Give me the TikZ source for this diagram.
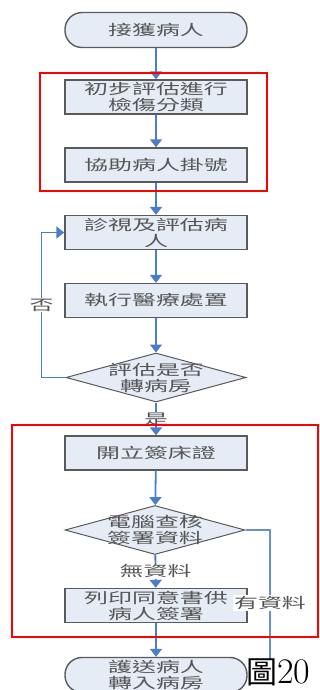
\documentclass[tikz,border=0pt]{standalone}
\usepackage{fontspec}
\newfontfamily\cjk[FakeStretch=1.65]{Noto Sans CJK TC}
\newfontfamily\cjkbig{Noto Sans CJK TC}
\usetikzlibrary{shapes.geometric,arrows.meta}

\definecolor{flowblue}{HTML}{4A7EC9}
\definecolor{boxfill}{HTML}{E6ECF6}
\definecolor{boxline}{HTML}{5A5A5A}
\definecolor{txtgray}{HTML}{555555}

\tikzset{
  box/.style = {draw = boxline, line width = 1.4pt, fill = boxfill, minimum width = 182pt, minimum height = 34pt,
                inner sep = 0pt, align = center, text = txtgray, font = \cjk\fontsize{14.5}{16}\selectfont},
  terminal/.style = {box, rounded corners = 17pt, minimum height = 35pt},
  decision/.style = {diamond, draw = boxline, line width = 1pt, fill = boxfill, minimum width = 180pt,
                     minimum height = 49pt, inner sep = 0pt},
  dtext/.style = {align = center, inner sep = 0pt, text = txtgray, font = \cjk\fontsize{14.5}{16}\selectfont},
  flow/.style = {draw = flowblue, line width = 1.8pt, -{Triangle[width = 12pt, length = 8pt]}},
  flowthin/.style = {draw = flowblue!85, line width = 1.3pt},
  tag/.style = {fill = white, inner sep = 1pt, text = txtgray, font = \cjk\fontsize{14.5}{16}\selectfont},
  frame/.style = {draw = red, line width = 1.6pt}
}

\begin{document}
\begin{tikzpicture}[x = 1pt, y = -1pt]
\useasboundingbox (0,0) rectangle (320,690);

\node[terminal] (start) at (156,30) {接獲病人};
\node[box] (triage) at (156,97) {初步評估進行\\檢傷分類};
\node[box] (regist) at (156,165) {協助病人掛號};
\node[box] (assess) at (156,232.5) {診視及評估病\\人};
\node[box] (treat) at (156,300.5) {執行醫療處置};
\node[decision, label = {[dtext]center:{評估是否\\轉病房}}] (ward) at (156,377.5) {};
\node[box] (bedcert) at (156,453) {開立簽床證};
\node[decision, label = {[dtext]center:{電腦查核\\簽署資料}}] (check) at (155,530) {};
\node[box] (consent) at (156,605.5) {列印同意書供\\病人簽署};
\node[terminal] (transfer) at (156,675) {護送病人\\轉入病房};
\coordinate (lineend) at (270,660);

\draw[flow] (start) -- (triage);
\draw[flow] (triage) -- (regist);
\draw[flow] (regist) -- (assess);
\draw[flow] (assess) -- (treat);
\draw[flow] (treat) -- (ward);
\draw[flow] (ward.west) -- ++(-24,0) |- node[tag, pos = 0.25] {否} (assess.west);
\draw[flow] (ward) -- node[tag] {是} (bedcert);
\draw[flow] (bedcert) -- (check);
\draw[flow] (check) -- node[tag] {無資料} (consent);
\draw[flow] (consent) -- (transfer);
\draw[flowthin] (check.east) -| node[tag, pos = 0.78] {有資料} (lineend);

% red frames
\draw[frame] (40,73) rectangle (267,191);
\draw[frame] (12,425) rectangle (318,637);

\node[anchor = base west, inner sep = 0pt] (fignum) at (246,683)
  {{\cjkbig\fontsize{31}{31}\selectfont 圖}{\fontsize{36}{36}\selectfont 20}};

\end{tikzpicture}
\end{document}
